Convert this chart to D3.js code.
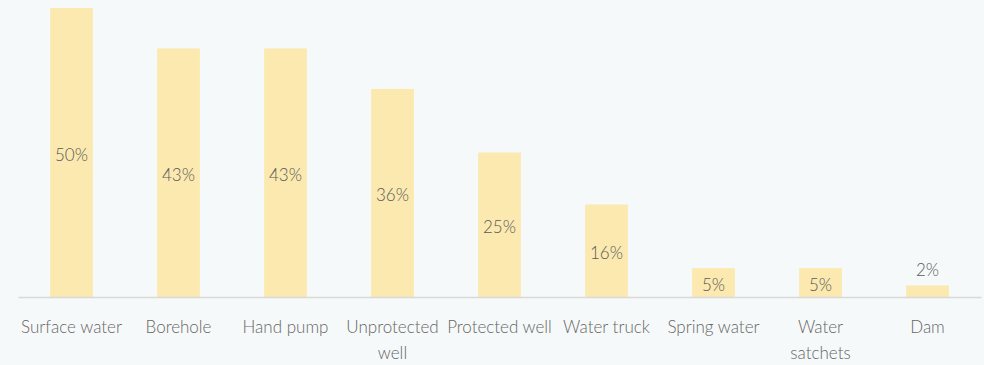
<!DOCTYPE html>
<html>
<head>
<meta charset="utf-8">
<script src="https://cdn.jsdelivr.net/npm/d3@7"></script>
<style>
  html, body { margin: 0; padding: 0; background: #f6f9f9; }
  svg { display: block; font-family: "Lato", "Open Sans", sans-serif; font-weight: 300; }
</style>
</head>
<body>
<svg id="chart"></svg>
<script>
// Water source shares
const categories = ["Surface water", "Borehole", "Hand pump", "Unprotected well", "Protected well",
                    "Water truck", "Spring water", "Water satchets", "Dam"];
const values = [50, 43, 43, 36, 25, 16, 5, 5, 2];

const width = 984;
const height = 365;
const baseline = 297;

const svg = d3.select("#chart")
    .attr("width", width)
    .attr("height", height);

const x = d3.scaleBand()
    .domain(categories)
    .range([18, 981])
    .paddingInner(0.6)
    .paddingOuter(0.3);

const y = d3.scaleLinear()
    .domain([0, 50])
    .range([baseline, 8]);

// bars
svg.selectAll("rect.bar")
    .data(categories)
    .enter()
    .append("rect")
    .attr("class", "bar")
    .attr("x", d => x(d))
    .attr("y", (d, i) => y(values[i]))
    .attr("width", x.bandwidth())
    .attr("height", (d, i) => baseline - y(values[i]))
    .attr("fill", "#fbe9b0");

// value labels, inside the bar unless it is too short
svg.selectAll("text.val")
    .data(categories)
    .enter()
    .append("text")
    .attr("class", "val")
    .attr("x", d => x(d) + x.bandwidth() / 2)
    .attr("y", (d, i) => {
        const top = y(values[i]);
        const h = baseline - top;
        return h > 24 ? top + h / 2 + 8 : top - 9;
    })
    .attr("text-anchor", "middle")
    .style("font-size", "17px")
    .style("fill", "#5a5a5a")
    .text((d, i) => values[i] + "%");

// baseline
const xAxis = svg.append("g")
    .attr("transform", `translate(0, ${baseline})`)
    .call(d3.axisBottom(x).tickSize(0).tickPadding(0));

xAxis.select(".domain").attr("stroke", "#d9d9d9").attr("stroke-width", 1.5);
xAxis.selectAll(".tick text")
    .style("font-size", "17px")
    .style("fill", "#666")
    .style("font-family", "Lato, sans-serif")
    .style("font-weight", 300)
    .attr("y", 36)
    .attr("dy", 0)
    .call(wrap, x.step() - 2);

function wrap(texts, maxWidth) {
    texts.each(function() {
        const text = d3.select(this);
        const words = text.text().split(/\s+/);
        const yy = text.attr("y");
        text.text(null);
        let line = [];
        let lineNo = 0;
        let tspan = text.append("tspan").attr("x", 0).attr("y", yy);
        words.forEach(w => {
            line.push(w);
            tspan.text(line.join(" "));
            if (tspan.node().getComputedTextLength() > maxWidth && line.length > 1) {
                line.pop();
                tspan.text(line.join(" "));
                line = [w];
                lineNo++;
                tspan = text.append("tspan").attr("x", 0).attr("y", +yy + lineNo * 26).text(w);
            }
        });
    });
}
</script>
</body>
</html>
